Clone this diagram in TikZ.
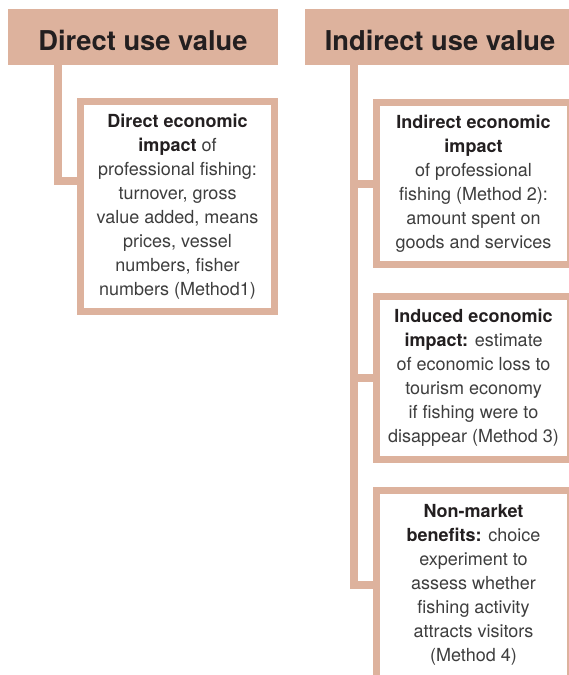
\documentclass[tikz,border=0pt]{standalone}
\usepackage{fontspec}
\setmainfont{TeX Gyre Heros}
\definecolor{sand}{RGB}{221,178,157}
\definecolor{bodytext}{RGB}{62,62,62}
\definecolor{keytext}{RGB}{35,31,32}
\newcommand{\keyterm}[1]{\textbf{\color{keytext}#1}}

\begin{document}
\begin{tikzpicture}[x=1pt,y=-1pt,
  header/.style={fill=sand,minimum width=270pt,minimum height=55.5pt,inner sep=0pt,
    font=\fontsize{27.3}{30}\selectfont\bfseries,text=keytext,text height=26.4pt,text depth=0pt},
  valuebox/.style={draw=sand,line width=7pt,fill=white,minimum width=194pt,inner sep=0pt,
    align=center,font=\fontsize{18}{24}\selectfont,text=bodytext,
    execute at begin node={\rule{0pt}{24pt}}},
  link/.style={draw=sand,line width=8pt}
]
\useasboundingbox (0,0) rectangle (569,675);

% headers
\node[header] (dhead) at (143,36.8) {Direct use value};
\node[header] (ihead) at (440,37) {Indirect use value};

% value boxes
\node[valuebox,minimum height=210pt] (dbox) at (177.5,206.5)
  {\keyterm{Direct economic}\\ \keyterm{impact} of\\ professional fishing:\\ turnover, gross\\
   value added, means\\ prices, vessel\\ numbers, fisher\\ numbers (Method1)};
\node[valuebox,minimum height=162pt] (ibox2) at (473.5,183.5)
  {\keyterm{Indirect economic}\\ \keyterm{impact}\\ of professional\\ fishing (Method 2):\\
   amount spent on\\ goods and services};
\node[valuebox,minimum height=163pt] (ibox3) at (473.5,378)
  {\keyterm{Induced economic}\\ \keyterm{impact:} estimate\\ of economic loss to\\
   tourism economy\\ if fishing were to\\ disappear (Method 3)};
\node[valuebox,minimum height=189pt] (ibox4) at (473.5,585)
  {\keyterm{Non-market}\\ \keyterm{benefits:} choice\\ experiment to\\ assess whether\\
   fishing activity\\ attracts visitors\\ (Method 4)};

% connectors
\coordinate (dspine) at ([xshift=50pt]dhead.south west);
\coordinate (ispine) at ([xshift=49pt]ihead.south west);
\draw[link] (dspine) |- ([yshift=25.5pt]dbox.west);
\draw[link] (ispine) |- (ibox4.west);
\foreach \b in {ibox2,ibox3}
  \draw[link] (ispine |- \b.west) -- (\b.west);
\end{tikzpicture}
\end{document}
